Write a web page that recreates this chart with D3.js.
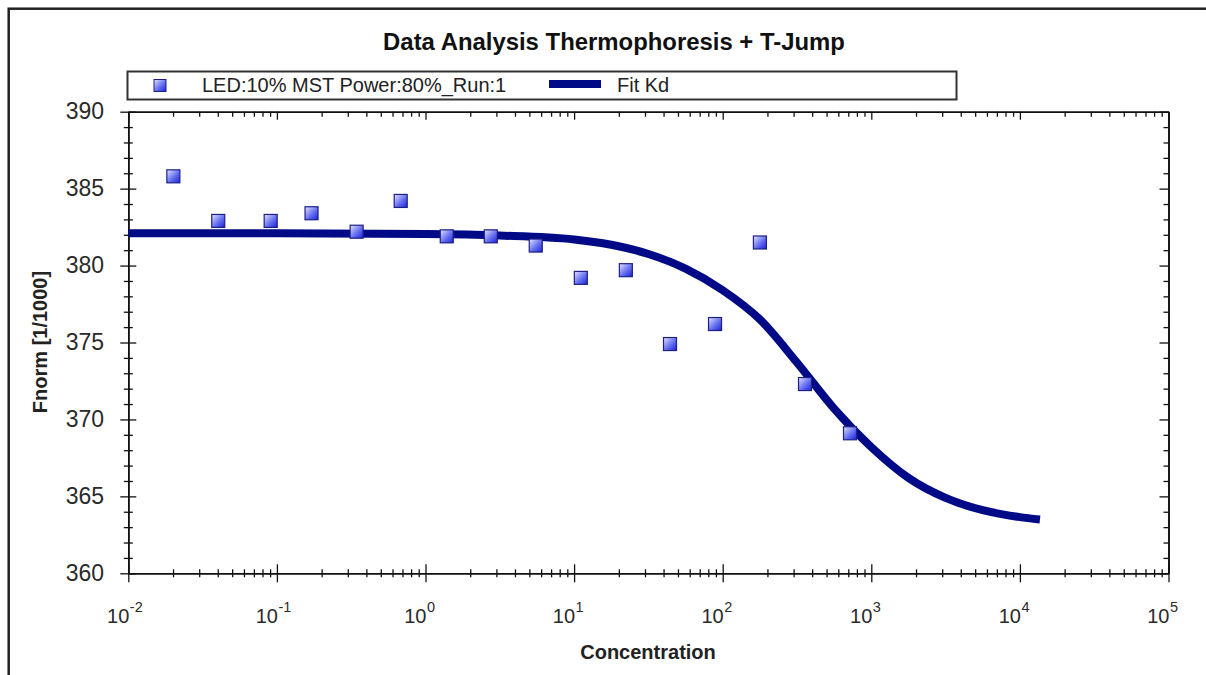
<!DOCTYPE html>
<html>
<head>
<meta charset="utf-8">
<script src="https://cdn.jsdelivr.net/npm/d3@7.9.0/dist/d3.min.js"></script>
<style>
  html, body { margin: 0; padding: 0; background: #fff; }
  svg { display: block; font-family: "Liberation Sans", Arial, sans-serif; }
</style>
</head>
<body>
<svg id="chart" width="1206" height="675"></svg>
<script>
// measured points (concentration, Fnorm)
const concentrations = [0.0201, 0.0403, 0.0908, 0.171, 0.344, 0.681, 1.39, 2.75,
  5.52, 11.1, 22.3, 44.2, 88.8, 178, 358, 719];
const fnorm = [385.8, 382.9, 382.9, 383.4, 382.2, 384.2, 381.9, 381.9,
  381.3, 379.2, 379.7, 374.9, 376.2, 381.5, 372.3, 369.1];

// fit curve
const fitConc = [0.01, 0.1, 1, 3.16, 10, 17.8, 31.6, 56.2, 100, 178, 316, 562,
  1000, 1778, 3162, 5623, 10000, 13650];
const fitValues = [382.1, 382.1, 382.05, 381.95, 381.7, 381.35, 380.75, 379.8, 378.4,
  376.5, 373.7, 370.7, 368.2, 366.2, 364.9, 364.1, 363.65, 363.5];

const xDomain = [0.01, 1e5];
const yDomain = [360, 390];

const titleText = 'Data Analysis Thermophoresis + T-Jump';
const seriesLabel = 'LED:10% MST Power:80%_Run:1';
const fitLabel = 'Fit Kd';
const xTitle = 'Concentration';
const yTitle = 'Fnorm [1/1000]';

const svg = d3.select('#chart');

const x = d3.scaleLog().domain(xDomain).range([128.3, 1168.5]);
const y = d3.scaleLinear().domain(yDomain).range([573.3, 111.7]);

const xMajor = x.ticks().filter(d => Math.abs(Math.log10(d) - Math.round(Math.log10(d))) < 1e-9);
const xMinor = x.ticks().filter(d => !xMajor.includes(d));
const yMajor = y.ticks(6);
const yMinor = y.ticks(30).filter(d => !yMajor.includes(d));

// marker gradient
const defs = svg.append('defs');
const grad = defs.append('linearGradient')
  .attr('id', 'mk')
  .attr('x1', 0).attr('y1', 0).attr('x2', 1).attr('y2', 1);
grad.append('stop').attr('offset', '0%').attr('stop-color', '#e4e6ff');
grad.append('stop').attr('offset', '55%').attr('stop-color', '#6770f0');
grad.append('stop').attr('offset', '100%').attr('stop-color', '#1a22d8');

// outer frame
svg.append('rect')
  .attr('x', 8.7).attr('y', 8.7)
  .attr('width', 1300).attr('height', 1000)
  .attr('fill', '#fff')
  .attr('stroke', '#222')
  .attr('stroke-width', 2.5);

// title
svg.append('text')
  .attr('x', 614).attr('y', 50)
  .attr('text-anchor', 'middle')
  .attr('font-size', 23.9)
  .attr('font-weight', 'bold')
  .attr('fill', '#111')
  .text(titleText);

// legend
const legend = svg.append('g');
legend.append('rect')
  .attr('x', 127.5).attr('y', 71.5)
  .attr('width', 829).attr('height', 28)
  .attr('fill', '#fff')
  .attr('stroke', '#333')
  .attr('stroke-width', 2);
legend.append('rect')
  .attr('x', 154).attr('y', 79.5)
  .attr('width', 12).attr('height', 12)
  .attr('fill', 'url(#mk)')
  .attr('stroke', '#1c1f86')
  .attr('stroke-width', 1);
legend.append('text')
  .attr('x', 202).attr('y', 92)
  .attr('font-size', 20)
  .attr('fill', '#222')
  .text(seriesLabel);
legend.append('line')
  .attr('x1', 549).attr('x2', 601)
  .attr('y1', 84).attr('y2', 84)
  .attr('stroke', '#000a86')
  .attr('stroke-width', 8);
legend.append('text')
  .attr('x', 617).attr('y', 92)
  .attr('font-size', 20)
  .attr('fill', '#222')
  .text(fitLabel);

// axes
function styleAxis(g) {
  g.select('.domain').attr('stroke', '#111').attr('stroke-width', 1.6);
  g.selectAll('.tick line').attr('stroke', '#111').attr('stroke-width', 1.3);
  g.selectAll('.tick text').remove();
}

function addAxis(axisFn, scale, values, size, transform, crossing) {
  const g = svg.append('g')
    .attr('transform', transform)
    .call(axisFn(scale).tickValues(values).tickSizeInner(size).tickSizeOuter(0).tickFormat(''));
  styleAxis(g);
  if (crossing) {
    const horiz = axisFn === d3.axisBottom;
    g.selectAll('.tick line').attr(horiz ? 'y1' : 'x1', horiz ? -size : size);
  }
  return g;
}

// bottom
addAxis(d3.axisBottom, x, xMinor, 4, `translate(0,${y(360)})`, true);
addAxis(d3.axisBottom, x, xMajor, 9, `translate(0,${y(360)})`, true);
// top (ticks inward)
addAxis(d3.axisBottom, x, xMinor, 5, `translate(0,${y(390)})`, false);
addAxis(d3.axisBottom, x, xMajor, 8, `translate(0,${y(390)})`, false);
// left
addAxis(d3.axisLeft, y, yMinor, 4.5, `translate(${x(0.01)},0)`, true);
addAxis(d3.axisLeft, y, yMajor, 8, `translate(${x(0.01)},0)`, true);
// right (ticks inward)
addAxis(d3.axisLeft, y, yMinor, 5, `translate(${x(1e5)},0)`, false);
addAxis(d3.axisLeft, y, yMajor, 9, `translate(${x(1e5)},0)`, false);

// y tick labels
svg.append('g')
  .selectAll('text')
  .data(yMajor)
  .join('text')
  .attr('x', 104)
  .attr('y', d => y(d))
  .attr('dy', '0.33em')
  .attr('text-anchor', 'end')
  .attr('font-size', 23)
  .attr('fill', '#2a2a2a')
  .text(d => d);

// x tick labels 10^n
const xl = svg.append('g')
  .selectAll('g')
  .data(xMajor)
  .join('g');
xl.append('text')
  .attr('x', d => x(d) + 1)
  .attr('y', 623)
  .attr('text-anchor', 'end')
  .attr('font-size', 20)
  .attr('fill', '#2a2a2a')
  .text('10');
xl.append('text')
  .attr('x', d => x(d) + 1.5)
  .attr('y', 612)
  .attr('font-size', 14.5)
  .attr('fill', '#2a2a2a')
  .text(d => Math.round(Math.log10(d)));

// axis titles
svg.append('text')
  .attr('x', 648).attr('y', 659)
  .attr('text-anchor', 'middle')
  .attr('font-size', 20)
  .attr('font-weight', 'bold')
  .attr('fill', '#222')
  .text(xTitle);

svg.append('text')
  .attr('transform', 'translate(47,342) rotate(-90)')
  .attr('text-anchor', 'middle')
  .attr('font-size', 20)
  .attr('font-weight', 'bold')
  .attr('fill', '#222')
  .text(yTitle);

// fit curve
const fitData = fitConc.map((c, i) => ({ c, v: fitValues[i] }));
const line = d3.line()
  .x(d => x(d.c))
  .y(d => y(d.v))
  .curve(d3.curveMonotoneX);

svg.append('path')
  .datum(fitData)
  .attr('d', line)
  .attr('fill', 'none')
  .attr('stroke', '#000a86')
  .attr('stroke-width', 8);

// data points
const points = concentrations.map((c, i) => ({ c, v: fnorm[i] }));
svg.append('g')
  .selectAll('rect')
  .data(points)
  .join('rect')
  .attr('x', d => x(d.c) - 6.5)
  .attr('y', d => y(d.v) - 6.5)
  .attr('width', 13)
  .attr('height', 13)
  .attr('fill', 'url(#mk)')
  .attr('stroke', '#1c1f86')
  .attr('stroke-width', 1.2);
</script>
</body>
</html>
